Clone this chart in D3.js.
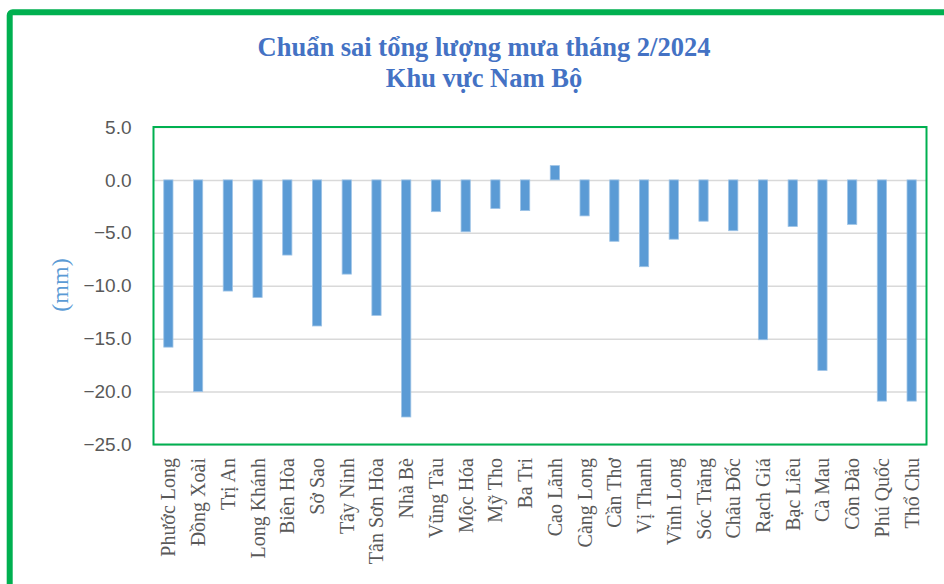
<!DOCTYPE html>
<html>
  <head>
    <meta charset="utf-8">
    <title>Chuẩn sai tổng lượng mưa tháng 2/2024</title>
    <script src="https://d3js.org/d3.v7.min.js"></script>
    <style>
      body { margin: 0; background: #fff; }
      svg { display: block; }
      .title { font-family: "Liberation Serif", "DejaVu Serif", serif; font-weight: bold; fill: #4472c4; }
      .ytick text { font-family: "Liberation Sans", Arial, sans-serif; fill: #595959; }
      .xlabel { font-family: "Liberation Serif", serif; fill: #595959; }
    </style>
  </head>
  <body>
    <div id="chart"></div>
    <script>
      // data
      var stations = ["Phước Long", "Đồng Xoài", "Trị An", "Long Khánh", "Biên Hòa", "Sở Sao",
        "Tây Ninh", "Tân Sơn Hòa", "Nhà Bè", "Vũng Tàu", "Mộc Hóa", "Mỹ Tho", "Ba Tri",
        "Cao Lãnh", "Càng Long", "Cần Thơ", "Vị Thanh", "Vĩnh Long", "Sóc Trăng", "Châu Đốc",
        "Rạch Giá", "Bạc Liêu", "Cà Mau", "Côn Đảo", "Phú Quốc", "Thổ Chu"];
      var anomaly = [-15.8, -20.0, -10.5, -11.1, -7.1, -13.8, -8.9, -12.8, -22.4, -3.0, -4.9,
        -2.7, -2.9, 1.35, -3.4, -5.8, -8.2, -5.6, -3.9, -4.8, -15.1, -4.4, -18.0, -4.2, -20.9, -20.9];
      var yTicks = [5, 0, -5, -10, -15, -20, -25];
      var titleLines = ["Chuẩn sai tổng lượng mưa tháng 2/2024", "Khu vực Nam Bộ"];

      var width = 944, height = 584;
      var plot = { left: 153.5, right: 926.5, top: 127, bottom: 444.5 };

      var svg = d3.select("#chart").append("svg")
        .attr("width", width)
        .attr("height", height);

      // outer frame
      svg.append("rect")
        .attr("x", 9.7).attr("y", 12.3)
        .attr("width", width + 20).attr("height", height + 20)
        .attr("rx", 3)
        .attr("fill", "none")
        .attr("stroke", "#00b050")
        .attr("stroke-width", 6);

      // title
      svg.append("g").selectAll("text")
          .data(titleLines)
        .enter().append("text")
          .attr("class", "title")
          .attr("x", 484)
          .attr("y", function(d, i) { return 56 + i * 31; })
          .attr("text-anchor", "middle")
          .style("font-size", "26.5px")
          .text(function(d) { return d; });

      // scales
      var x = d3.scaleBand()
        .domain(stations)
        .range([plot.left, plot.right])
        .paddingInner(0.69)
        .paddingOuter(0.345);
      var y = d3.scaleLinear()
        .domain([-25, 5])
        .range([plot.bottom, plot.top]);

      // gridlines + tick labels
      var yAxis = svg.append("g")
        .attr("class", "ytick")
        .attr("transform", "translate(" + plot.left + ",0)")
        .call(d3.axisLeft(y).tickValues(yTicks).tickSize(0).tickPadding(22)
          .tickFormat(d3.format(".1f")));
      yAxis.select(".domain").remove();
      yAxis.selectAll("text").style("font-size", "19px");
      yAxis.selectAll("line")
        .attr("x2", plot.right - plot.left)
        .attr("stroke", "#d9d9d9")
        .attr("stroke-width", 1.5);

      // bars
      svg.append("g").selectAll("rect")
          .data(anomaly)
        .enter().append("rect")
          .attr("x", function(d, i) { return x(stations[i]); })
          .attr("width", x.bandwidth())
          .attr("y", function(d) { return y(Math.max(0, d)); })
          .attr("height", function(d) { return Math.abs(y(d) - y(0)); })
          .attr("fill", "#5b9bd5")
          .attr("stroke", "#9dc3e6")
          .attr("stroke-width", 0.8);

      // plot border
      svg.append("rect")
        .attr("x", plot.left).attr("y", plot.top)
        .attr("width", plot.right - plot.left)
        .attr("height", plot.bottom - plot.top)
        .attr("fill", "none")
        .attr("stroke", "#00b050")
        .attr("stroke-width", 2);

      // category labels
      svg.append("g").selectAll("text")
          .data(stations)
        .enter().append("text")
          .attr("class", "xlabel")
          .attr("transform", function(d) {
            return "translate(" + (x(d) + x.bandwidth() / 2 + 7) + ",458) rotate(-90)";
          })
          .attr("text-anchor", "end")
          .style("font-size", "20px")
          .text(function(d) { return d; });

      // y axis title
      svg.append("text")
        .attr("transform", "translate(68,285) rotate(-90)")
        .attr("text-anchor", "middle")
        .style("font-family", "Liberation Serif, serif")
        .style("font-size", "24px")
        .attr("fill", "#5b9bd5")
        .text("(mm)");
    </script>
  </body>
</html>
